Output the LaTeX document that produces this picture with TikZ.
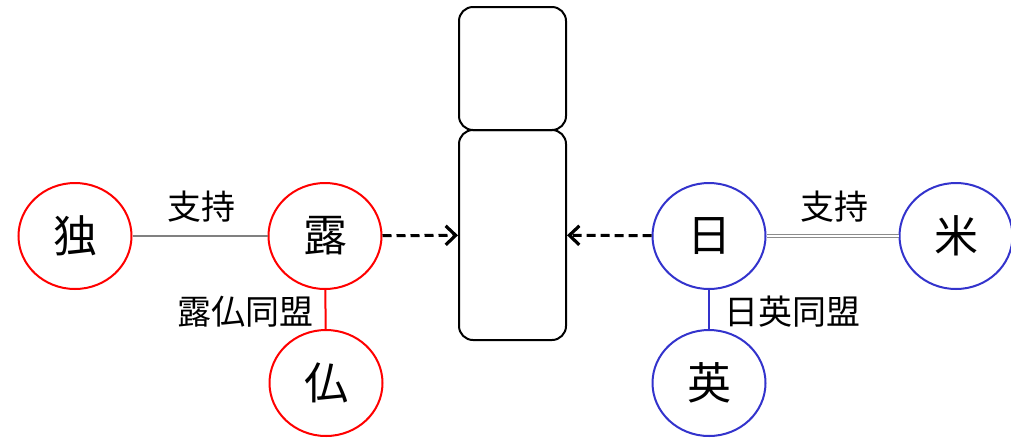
\documentclass[tikz,border=0pt]{standalone}
\usepackage{fontspec}
\setmainfont{Noto Sans CJK JP}
\usetikzlibrary{arrows.meta,shapes.geometric}
\definecolor{rd}{RGB}{255,0,0}
\definecolor{bl}{RGB}{51,51,204}
\begin{document}
\begin{tikzpicture}[x=1pt,y=-1pt,
  country/.style={ellipse,draw,line width=2pt,minimum width=113pt,minimum height=106pt,inner sep=0pt,font=\fontsize{44}{48}\selectfont},
  redc/.style={country,draw=rd},
  bluec/.style={country,draw=bl},
  lbl/.style={font=\fontsize{34}{38}\selectfont,inner sep=0pt},
  blk/.style={draw,line width=2pt,rounded corners=14pt},
  arr/.style={line width=3pt,dash pattern=on 9pt off 5pt,-{Straight Barb[length=10pt,width=19pt,line width=3.2pt]}}]
\useasboundingbox (0,0) rectangle (1011,440);
\node[redc] (doku) at (75,236) {独};
\node[redc] (ro) at (325,236) {露};
\node[redc] (futsu) at (326,383) {仏};
\node[bluec] (nichi) at (709,236) {日};
\node[bluec] (bei) at (956,236) {米};
\node[bluec] (ei) at (709,383) {英};
\draw[blk] (459,7) rectangle (566,130);
\node[blk,minimum width=107pt,minimum height=210pt,inner sep=0pt] (box) at (512.5,235) {};
\draw[gray,line width=2.2pt] (doku) -- (ro);
\node[lbl] at (201,207) {支持};
\draw[gray!90,double=white,double distance=1.5pt,line width=1.2pt] (nichi) -- (bei);
\node[lbl] at (834,207) {支持};
\draw[rd,line width=2pt] (ro) -- (futsu);
\draw[bl,line width=2pt] (nichi) -- (ei);
\node[lbl,anchor=east] at (314,312) {露仏同盟};
\node[lbl,anchor=west] at (724,312) {日英同盟};
\draw[arr] (ro) -- (box);
\draw[arr] (nichi) -- (box);
\end{tikzpicture}
\end{document}
